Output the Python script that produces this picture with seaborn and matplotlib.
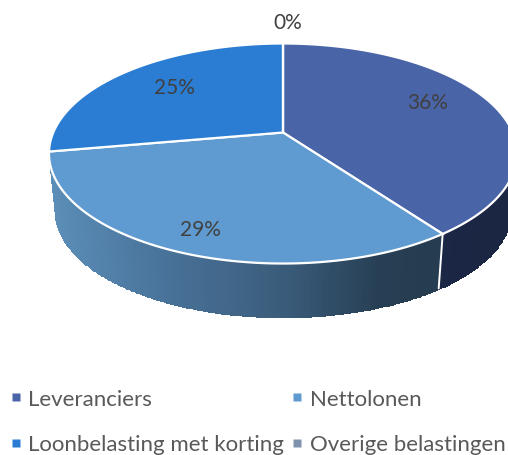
import numpy as np
import matplotlib
matplotlib.use("Agg")
import matplotlib.pyplot as plt
import seaborn as sns
from matplotlib.colors import LinearSegmentedColormap
from matplotlib.lines import Line2D
from matplotlib.path import Path
from matplotlib.transforms import Affine2D, Transform

categories = ["Leveranciers", "Nettolonen", "Loonbelasting met korting", "Overige belastingen"]
values = [36, 29, 25, 0]
value_labels = ["36%", "29%", "25%", "0%"]
colors = ["#4A64A8", "#5F9BD0", "#2A7DD3", "#8093AE"]

# layout (figure pixels)
CX, CY = 283.0, 133.5
AX_X, AX_Y, K = 229.7, 106.0, 0.191
WALL_DROP, WALL_SCALE = 57.0, 0.975
label_xy = [(428, 103), (200, 230), (174, 88), (288, 23)]


class Persp(Transform):
    """Tilted-disc projection of the unit pie to figure pixels."""
    input_dims = output_dims = 2

    def transform_non_affine(self, xy):
        xy = np.asarray(xy, float)
        w = 1 + K * xy[:, 1]
        return np.column_stack([CX + AX_X * xy[:, 0] / w, CY - AX_Y * xy[:, 1] / w])

    def transform_path_non_affine(self, path):
        polys = path.to_polygons(Affine2D().scale(3000), closed_only=True)
        if not polys:
            return Path(np.zeros((2, 2)))
        return Path(self.transform_non_affine(polys[0] / 3000), closed=True)


sns.set_theme(style="white")
plt.rcParams["font.family"] = ["Lato", "DejaVu Sans"]

fig = plt.figure(figsize=(5.08, 4.56), dpi=100)
ax = fig.add_axes([0, 0, 1, 1])
wedges, _ = ax.pie(values, colors=sns.color_palette(colors), startangle=90, counterclock=False,
                   normalize=True, wedgeprops=dict(edgecolor="white", linewidth=1.6, zorder=5))
ax.set_aspect("auto")
ax.set_xlim(0, 508)
ax.set_ylim(456, 0)
ax.axis("off")

proj = Persp()
for w in wedges:
    w.set_transform(proj + ax.transData)


def rim(theta):
    t = np.radians(theta)
    return proj.transform_non_affine(np.column_stack([np.cos(t), np.sin(t)]))


def wall(wedge, cmap):
    th = np.linspace(wedge.theta1, wedge.theta2, 240)
    th = th[np.sin(np.radians(th)) < -0.26]
    if th.size < 2:
        return
    top = rim(th)
    bx = CX + (top[:, 0] - CX) * WALL_SCALE
    by = CY + WALL_DROP + (top[:, 1] - CY) * WALL_SCALE
    X = np.vstack([top[:, 0], bx])
    Y = np.vstack([top[:, 1], by])
    C = ((top[:-1, 0] + top[1:, 0]) / 2)[None, :]
    ax.pcolormesh(X, Y, C, shading="flat", cmap=cmap, vmin=50, vmax=510, zorder=2,
                  edgecolors="face", linewidth=0.4)


wall_cmap_2 = LinearSegmentedColormap.from_list(
    "w2", [(0, "#5B8EB8"), (0.24, "#49739A"), (0.5, "#3B5D7C"), (0.72, "#273F54"), (1, "#25384C")])
wall_cmap_1 = LinearSegmentedColormap.from_list("w1", ["#1D2A4A", "#1B2643"])
wall(wedges[1], wall_cmap_2)
wall(wedges[0], wall_cmap_1)

# seam between the two front walls
seam = rim(np.array([wedges[0].theta1]))[0]
ax.plot([seam[0], CX + (seam[0] - CX) * WALL_SCALE],
        [seam[1], CY + WALL_DROP + (seam[1] - CY) * WALL_SCALE],
        color="white", lw=1.4, zorder=3)

for txt, (x, y) in zip(value_labels, label_xy):
    ax.text(x, y, txt, ha="center", va="center", fontsize=15, color="#404040", zorder=6)

handles = [Line2D([], [], ls="none", marker="s", ms=5.2, mfc=c, mec="none") for c in colors]
order = [0, 2, 1, 3]
ax.legend([handles[i] for i in order], [categories[i] for i in order], ncols=2, frameon=False,
          loc="upper left", bbox_to_anchor=(0.016, 0.1446), fontsize=16, labelcolor="#595959",
          handlelength=0.7, handletextpad=0.2, columnspacing=0.25, labelspacing=1.14,
          borderaxespad=0, borderpad=0)

fig.savefig("out.png", dpi=100)
